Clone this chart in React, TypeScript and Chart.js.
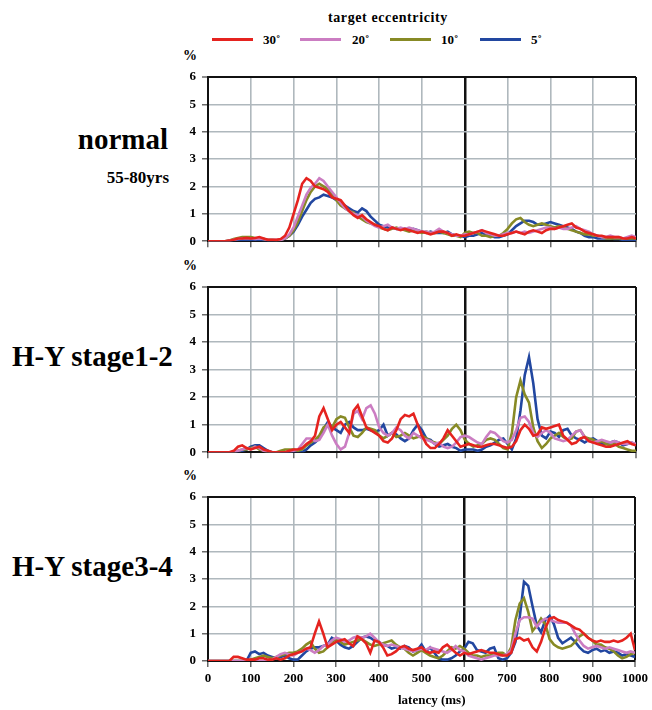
import React, { useEffect, useRef } from "react";
import { Chart, registerables } from "chart.js";

Chart.register(...registerables);

// latency (ms) sample points
const latency = [
  0, 10, 20, 30, 40, 50, 60, 70, 80, 90,
  100, 110, 120, 130, 140, 150, 160, 170, 180, 190,
  200, 210, 220, 230, 240, 250, 260, 270, 280, 290,
  300, 310, 320, 330, 340, 350, 360, 370, 380, 390,
  400, 410, 420, 430, 440, 450, 460, 470, 480, 490,
  500, 510, 520, 530, 540, 550, 560, 570, 580, 590,
  600, 610, 620, 630, 640, 650, 660, 670, 680, 690,
  700, 710, 720, 730, 740, 750, 760, 770, 780, 790,
  800, 810, 820, 830, 840, 850, 860, 870, 880, 890,
  900, 910, 920, 930, 940, 950, 960, 970, 980, 990,
  1000,
];

const xTickValues = [0, 100, 200, 300, 400, 500, 600, 700, 800, 900, 1000];
const yTickValues = [0, 1, 2, 3, 4, 5, 6];

const eccentricityLabels = ["30\u02da", "20\u02da", "10\u02da", "5\u02da"];
const eccentricityColors = ["#e5231f", "#cb7dc2", "#878a25", "#2247a0"];

// ---- normal 55-80yrs ----
const normal30 = [
  0, 0, 0, 0, 0, 0.02, 0.05, 0.1, 0.1, 0.12,
  0.1, 0.12, 0.15, 0.1, 0.05, 0.05, 0.05, 0.08, 0.2, 0.5,
  1.0, 1.5, 2.1, 2.3, 2.2, 2.0, 1.95, 1.9, 1.8, 1.6,
  1.55, 1.5, 1.3, 1.1, 0.95, 0.85, 0.95, 0.8, 0.7, 0.6,
  0.55, 0.45, 0.4, 0.5, 0.45, 0.4, 0.45, 0.4, 0.35, 0.3,
  0.35, 0.3, 0.25, 0.3, 0.35, 0.35, 0.3, 0.2, 0.25, 0.2,
  0.2, 0.25, 0.3, 0.35, 0.4, 0.35, 0.3, 0.25, 0.2, 0.2,
  0.25, 0.3, 0.35, 0.3, 0.25, 0.35, 0.4, 0.35, 0.3, 0.4,
  0.45, 0.45, 0.5, 0.55, 0.6, 0.65, 0.5, 0.45, 0.35, 0.3,
  0.25, 0.2, 0.2, 0.15, 0.15, 0.15, 0.15, 0.1, 0.1, 0.15,
  0.1,
];
const normal20 = [
  0, 0, 0, 0, 0, 0.02, 0.05, 0.08, 0.1, 0.1,
  0.1, 0.08, 0.1, 0.08, 0.05, 0.05, 0.05, 0.05, 0.1, 0.25,
  0.5, 0.9, 1.3, 1.7, 1.95, 2.1, 2.3, 2.2, 2.0, 1.8,
  1.6, 1.4, 1.2, 1.1, 1.0, 0.95, 0.9, 0.75, 0.65, 0.55,
  0.5, 0.55, 0.6, 0.5, 0.45, 0.5, 0.45, 0.5, 0.45, 0.4,
  0.35, 0.35, 0.3, 0.35, 0.45, 0.35, 0.3, 0.25, 0.2, 0.2,
  0.25, 0.25, 0.3, 0.35, 0.4, 0.3, 0.25, 0.2, 0.2, 0.25,
  0.3, 0.3, 0.35, 0.3, 0.35, 0.3, 0.35, 0.4, 0.45, 0.5,
  0.5, 0.45, 0.5, 0.45, 0.45, 0.5, 0.55, 0.45, 0.4, 0.35,
  0.25, 0.2, 0.15, 0.15, 0.2, 0.15, 0.15, 0.1, 0.15, 0.2,
  0.15,
];
const normal10 = [
  0, 0, 0, 0, 0, 0.03, 0.08, 0.12, 0.15, 0.15,
  0.15, 0.12, 0.1, 0.08, 0.05, 0.05, 0.03, 0.05, 0.1, 0.2,
  0.4, 0.7, 1.1, 1.5, 1.8, 2.0, 2.1, 2.0, 1.9, 1.7,
  1.5, 1.3, 1.2, 1.1, 1.05, 0.9, 0.8, 0.7, 0.65, 0.6,
  0.5, 0.45, 0.4, 0.45, 0.5, 0.45, 0.4, 0.35, 0.4, 0.35,
  0.3, 0.35, 0.3, 0.3, 0.35, 0.3, 0.25, 0.2, 0.2, 0.15,
  0.3, 0.35, 0.3, 0.3, 0.2, 0.2, 0.15, 0.2, 0.2, 0.3,
  0.45, 0.65, 0.8, 0.85, 0.7, 0.6, 0.55, 0.6, 0.65, 0.6,
  0.55, 0.5, 0.55, 0.5, 0.45, 0.4, 0.35, 0.3, 0.25, 0.25,
  0.2, 0.2, 0.15, 0.1, 0.1, 0.1, 0.1, 0.1, 0.1, 0.1,
  0.1,
];
const normal5 = [
  0, 0, 0, 0, 0, 0, 0.03, 0.05, 0.05, 0.05,
  0.05, 0.05, 0.05, 0.03, 0.02, 0.02, 0.02, 0.05, 0.1, 0.2,
  0.35, 0.6, 0.9, 1.15, 1.4, 1.55, 1.6, 1.7, 1.65, 1.6,
  1.5, 1.4, 1.3, 1.2, 1.1, 1.05, 1.2, 1.1, 0.9, 0.75,
  0.6, 0.55, 0.5, 0.5, 0.45, 0.45, 0.45, 0.4, 0.45, 0.4,
  0.35, 0.3, 0.35, 0.3, 0.3, 0.3, 0.35, 0.25, 0.2, 0.2,
  0.15, 0.2, 0.2, 0.25, 0.3, 0.25, 0.2, 0.15, 0.15, 0.2,
  0.25, 0.4, 0.55, 0.65, 0.75, 0.75, 0.7, 0.6, 0.6, 0.65,
  0.7, 0.65, 0.6, 0.55, 0.5, 0.45, 0.35, 0.3, 0.2, 0.15,
  0.15, 0.1, 0.1, 0.1, 0.1, 0.08, 0.08, 0.05, 0.05, 0.05,
  0.03,
];

// ---- H-Y stage1-2 ----
const hy12_30 = [
  0, 0, 0, 0, 0, 0, 0.05, 0.2, 0.25, 0.15,
  0.1, 0.15, 0.2, 0.1, 0.05, 0, 0, 0, 0, 0.05,
  0.1, 0.1, 0.15, 0.3, 0.4, 0.6, 1.3, 1.6, 1.2, 0.8,
  1.0, 1.1, 0.9, 0.7, 1.5, 1.7, 1.3, 0.9, 0.8, 0.7,
  0.6, 0.4, 0.35, 0.5, 0.8, 1.2, 1.35, 1.3, 1.4, 1.0,
  0.6, 0.3, 0.15, 0.15, 0.3, 0.5, 0.8, 0.6, 0.4, 0.2,
  0.25, 0.3, 0.25, 0.2, 0.2, 0.25, 0.3, 0.3, 0.25, 0.2,
  0.15, 0.2, 0.4, 0.8, 1.0, 0.85, 0.6, 0.65, 0.9, 0.85,
  0.9, 0.95, 1.0, 0.6, 0.45, 0.3, 0.35, 0.5, 0.55, 0.4,
  0.35, 0.3, 0.25, 0.2, 0.2, 0.25, 0.3, 0.35, 0.4, 0.3,
  0.25,
];
const hy12_20 = [
  0, 0, 0, 0, 0, 0, 0, 0.05, 0.1, 0.15,
  0.1, 0.2, 0.15, 0.05, 0, 0, 0, 0, 0, 0,
  0.05, 0.1, 0.3, 0.5, 0.5, 0.4, 0.45, 0.7, 1.0, 0.6,
  0.3, 0.1, 0.2, 0.7, 1.4, 1.5, 1.2, 1.6, 1.7, 1.4,
  0.9, 0.7, 0.6, 0.7, 0.9, 0.8, 0.6, 0.5, 0.7, 0.6,
  0.5, 0.45, 0.4, 0.3, 0.35, 0.2, 0.15, 0.2, 0.35, 0.55,
  0.6, 0.55, 0.45, 0.35, 0.3, 0.55, 0.75, 0.7, 0.55, 0.4,
  0.35, 0.45, 0.8, 1.25, 1.3, 1.1, 0.7, 0.55, 0.7, 0.8,
  0.7, 0.5, 0.45, 0.4, 0.45, 0.6, 0.75, 0.8, 0.55, 0.4,
  0.35, 0.4, 0.45, 0.4, 0.35, 0.4, 0.35, 0.3, 0.3, 0.35,
  0.3,
];
const hy12_10 = [
  0, 0, 0, 0, 0, 0, 0, 0.05, 0.1, 0.1,
  0.15, 0.2, 0.1, 0.05, 0, 0, 0, 0.05, 0.1, 0.1,
  0.1, 0.05, 0.1, 0.25, 0.35, 0.45, 0.6, 0.9, 1.0, 0.9,
  1.2, 1.3, 1.25, 0.9, 0.6, 0.55, 0.7, 0.9, 0.85, 0.8,
  0.6, 0.5, 0.6, 0.7, 0.55, 0.6, 0.7, 0.6, 0.5, 0.55,
  0.6, 0.5, 0.4, 0.35, 0.3, 0.45, 0.6, 0.85, 1.0, 0.8,
  0.45, 0.3, 0.2, 0.25, 0.3, 0.45, 0.5, 0.45, 0.3, 0.15,
  0.1, 0.7, 2.0, 2.6, 2.1, 1.8, 0.9, 0.4, 0.15, 0.3,
  0.5, 0.6, 0.7, 0.55, 0.45, 0.5, 0.75, 0.8, 0.55, 0.5,
  0.45, 0.35, 0.4, 0.3, 0.25, 0.3, 0.2, 0.15, 0.1, 0.05,
  0.05,
];
const hy12_5 = [
  0, 0, 0, 0, 0, 0, 0, 0.02, 0.05, 0.1,
  0.2, 0.25, 0.25, 0.15, 0.05, 0, 0, 0, 0, 0,
  0, 0, 0, 0.1, 0.25, 0.35, 0.5, 0.85, 1.1, 0.9,
  0.8, 0.7, 1.0, 1.1, 0.9, 0.8, 0.8, 0.85, 0.8, 0.75,
  0.8, 1.0, 0.6, 0.7, 0.65, 0.5, 0.4, 0.5, 0.8, 1.0,
  0.8, 0.5, 0.45, 0.3, 0.2, 0.25, 0.3, 0.2, 0.15, 0.05,
  0.1, 0.1, 0.1, 0.05, 0.1, 0.2, 0.25, 0.35, 0.45, 0.5,
  0.3, 0.1, 0.5, 1.5, 2.8, 3.45, 2.5, 1.2, 0.6, 0.5,
  0.75, 0.7, 0.55, 0.8, 0.85, 0.6, 0.5, 0.45, 0.35, 0.45,
  0.5, 0.4, 0.3, 0.3, 0.35, 0.4, 0.35, 0.25, 0.3, 0.35,
  0.25,
];

// ---- H-Y stage3-4 ----
const hy34_30 = [
  0, 0, 0, 0, 0, 0, 0.15, 0.15, 0.1, 0.05,
  0.05, 0.05, 0.1, 0.1, 0.05, 0.05, 0.1, 0.05, 0.1, 0.2,
  0.25, 0.3, 0.35, 0.45, 0.5, 1.0, 1.45, 1.0, 0.5, 0.6,
  0.7, 0.75, 0.8, 0.65, 0.55, 0.9, 0.8, 0.65, 0.3, 0.75,
  0.7, 0.5, 0.2, 0.25, 0.35, 0.5, 0.55, 0.45, 0.4, 0.45,
  0.5, 0.35, 0.3, 0.35, 0.3, 0.5, 0.6, 0.45, 0.3, 0.2,
  0.3, 0.25, 0.3, 0.35, 0.4, 0.35, 0.3, 0.3, 0.25, 0.2,
  0.2, 0.3, 0.8, 0.85, 0.75, 0.8, 0.5, 0.35, 0.7, 1.2,
  1.55, 1.6, 1.5, 1.45, 1.4, 1.3, 1.2, 1.15, 1.0, 0.85,
  0.75, 0.7, 0.75, 0.7, 0.7, 0.75, 0.7, 0.75, 0.85, 1.0,
  0.4,
];
const hy34_20 = [
  0, 0, 0, 0, 0, 0, 0, 0, 0, 0,
  0, 0, 0, 0, 0, 0.05, 0.15, 0.25, 0.3, 0.25,
  0.2, 0.3, 0.35, 0.45, 0.4, 0.3, 0.4, 0.55, 0.6, 0.75,
  0.85, 0.8, 0.7, 0.75, 0.85, 0.9, 0.85, 0.9, 1.0, 0.85,
  0.7, 0.6, 0.55, 0.6, 0.55, 0.5, 0.45, 0.4, 0.35, 0.4,
  0.45, 0.4, 0.5, 0.45, 0.4, 0.35, 0.3, 0.4, 0.55, 0.4,
  0.35, 0.2, 0.15, 0.1, 0.05, 0.1, 0.15, 0.2, 0.2, 0.2,
  0.25, 0.4, 1.0, 1.5, 1.6, 1.6, 1.55, 1.25, 1.45, 1.55,
  1.5, 1.45, 1.4, 1.4, 1.4, 1.3, 1.0, 0.75, 0.55, 0.45,
  0.5, 0.55, 0.5, 0.45, 0.5, 0.45, 0.4, 0.35, 0.3, 0.35,
  0.3,
];
const hy34_10 = [
  0, 0, 0, 0, 0, 0, 0, 0, 0, 0,
  0.05, 0.1, 0.15, 0.2, 0.15, 0.1, 0.15, 0.2, 0.25, 0.3,
  0.3, 0.35, 0.45, 0.6, 0.7, 0.45, 0.3, 0.35, 0.5, 0.7,
  0.8, 0.7, 0.6, 0.65, 0.7, 0.75, 0.8, 0.7, 0.6, 0.55,
  0.6, 0.65, 0.7, 0.75, 0.6, 0.5, 0.45, 0.3, 0.2, 0.3,
  0.4, 0.3, 0.2, 0.15, 0.1, 0.2, 0.35, 0.5, 0.45, 0.55,
  0.45, 0.3, 0.2, 0.2, 0.15, 0.2, 0.2, 0.25, 0.3, 0.3,
  0.2, 0.5, 1.5, 2.1, 2.3, 1.8, 1.1, 1.3, 1.55, 1.35,
  0.8, 0.6, 0.5, 0.45, 0.5, 0.55, 0.7, 0.9, 1.0, 0.85,
  0.75, 0.6, 0.6, 0.5, 0.45, 0.35, 0.2, 0.1, 0.15, 0.25,
  0.3,
];
const hy34_5 = [
  0, 0, 0, 0, 0, 0, 0, 0, 0, 0,
  0.3, 0.35, 0.25, 0.3, 0.2, 0.15, 0.1, 0.15, 0.2, 0.1,
  0.05, 0.05, 0.2, 0.35, 0.45, 0.5, 0.5, 0.55, 0.6, 0.85,
  0.75, 0.6, 0.5, 0.45, 0.55, 0.7, 0.85, 0.9, 0.85, 0.75,
  0.7, 0.6, 0.55, 0.45, 0.5, 0.45, 0.55, 0.5, 0.35, 0.4,
  0.6, 0.35, 0.5, 0.3, 0.1, 0.05, 0.05, 0.1, 0.2, 0.35,
  0.45, 0.7, 0.65, 0.4, 0.35, 0.3, 0.45, 0.5, 0.1, 0.05,
  0.1, 0.3, 0.7, 1.6, 2.9, 2.75, 2.0, 1.3, 1.05, 1.5,
  1.65, 1.35, 0.85, 0.65, 0.75, 0.85, 0.7, 0.5, 0.35, 0.3,
  0.4, 0.45, 0.35, 0.4, 0.3, 0.35, 0.3, 0.2, 0.25, 0.2,
  0.15,
];

const FONT = "'Liberation Serif', 'Times New Roman', serif";
const GRID = "#afb8bd";
const BLACK = "#111111";

type PanelProps = {
  top: number;
  height: number;
  series: number[][];
  showX: boolean;
};

function Panel({ top, height, series, showX }: PanelProps) {
  const ref = useRef<HTMLCanvasElement | null>(null);
  useEffect(() => {
    if (!ref.current) return;
    const chart = new Chart(ref.current, {
      type: "line",
      data: {
        datasets: series.map((vals, si) => ({
          label: eccentricityLabels[si],
          data: latency.map((x, i) => ({ x, y: vals[i] })),
          borderColor: eccentricityColors[si],
          backgroundColor: eccentricityColors[si],
          borderWidth: 2.6,
          pointRadius: 0,
          tension: 0,
          fill: false,
        })),
      },
      options: {
        animation: false,
        responsive: false,
        maintainAspectRatio: false,
        devicePixelRatio: 1,
        layout: { padding: { top: 27, right: 16, left: 0, bottom: 0 } },
        plugins: { legend: { display: false }, tooltip: { enabled: false } },
        scales: {
          x: {
            type: "linear",
            min: 0,
            max: 1000,
            afterBuildTicks: (scale: any) => {
              scale.ticks = xTickValues.map((v) => ({ value: v }));
            },
            afterFit: (scale: any) => {
              scale.height = showX ? 50 : 7;
            },
            ticks: {
              display: showX,
              color: "#000",
              padding: 4,
              maxRotation: 0,
              autoSkip: false,
              callback: (v: any) => String(v),
              font: { family: FONT, size: 13, weight: "bold" },
            },
            grid: {
              color: (ctx: any) =>
                ctx.tick && (ctx.tick.value === 600 || ctx.tick.value === 1000) ? BLACK : GRID,
              lineWidth: (ctx: any) =>
                ctx.tick && ctx.tick.value === 600 ? 2.5 : ctx.tick && ctx.tick.value === 1000 ? 2 : 1.6,
              tickLength: 6,
              tickColor: "#444",
              tickWidth: 1.2,
            },
            border: { color: BLACK, width: 2 },
          },
          y: {
            min: 0,
            max: 6,
            afterBuildTicks: (scale: any) => {
              scale.ticks = yTickValues.map((v) => ({ value: v }));
            },
            afterFit: (scale: any) => {
              scale.width = 40;
            },
            ticks: {
              color: "#000",
              padding: 6,
              font: { family: FONT, size: 13, weight: "bold" },
            },
            grid: {
              color: (ctx: any) => (ctx.tick && ctx.tick.value === 6 ? BLACK : GRID),
              lineWidth: (ctx: any) => (ctx.tick && ctx.tick.value === 6 ? 2 : 1.6),
              tickLength: 6,
              tickColor: "#444",
              tickWidth: 1.2,
            },
            border: { color: BLACK, width: 2 },
          },
        },
      },
    } as any);
    return () => chart.destroy();
  }, []);
  return (
    <canvas
      ref={ref}
      width={484}
      height={height}
      style={{ position: "absolute", left: 168, top, width: 484, height }}
    />
  );
}

const txt = (extra: React.CSSProperties): React.CSSProperties => ({
  position: "absolute",
  fontFamily: FONT,
  fontWeight: "bold",
  color: "#000",
  whiteSpace: "nowrap",
  lineHeight: 1,
  ...extra,
});

const legendLineX = [212, 300, 390, 480];
const legendTextX = [263, 352, 441, 531];

export default function App() {
  return (
    <div
      style={{
        position: "absolute",
        left: 0,
        top: 0,
        width: 652,
        height: 710,
        background: "#fff",
        overflow: "hidden",
      }}
    >
      {/* legend */}
      <div style={txt({ left: 328, top: 11, fontSize: 14, letterSpacing: 0.6 })}>target eccentricity</div>
      {eccentricityLabels.map((lab, i) => (
        <React.Fragment key={lab}>
          <div
            style={{
              position: "absolute",
              left: legendLineX[i],
              top: 38,
              width: 41,
              height: 3,
              background: eccentricityColors[i],
            }}
          />
          <div style={txt({ left: legendTextX[i], top: 33, fontSize: 13 })}>{lab}</div>
        </React.Fragment>
      ))}

      {/* % labels */}
      <div style={txt({ left: 183, top: 49, fontSize: 14 })}>%</div>
      <div style={txt({ left: 183, top: 259, fontSize: 14 })}>%</div>
      <div style={txt({ left: 183, top: 469, fontSize: 14 })}>%</div>

      {/* group labels */}
      <div style={txt({ left: 0, width: 168, textAlign: "right", top: 125, fontSize: 29 })}>normal</div>
      <div style={txt({ left: 0, width: 169, textAlign: "right", top: 169, fontSize: 17 })}>55-80yrs</div>
      <div style={txt({ left: 12, top: 342, fontSize: 29 })}>H-Y stage1-2</div>
      <div style={txt({ left: 12, top: 552, fontSize: 29 })}>H-Y stage3-4</div>

      <Panel top={50} height={205} series={[normal30, normal20, normal10, normal5]} showX={false} />
      <Panel top={260} height={206} series={[hy12_30, hy12_20, hy12_10, hy12_5]} showX={false} />
      <Panel top={470} height={241} series={[hy34_30, hy34_20, hy34_10, hy34_5]} showX={true} />

      <div style={txt({ left: 398, top: 693, fontSize: 13 })}>latency (ms)</div>
    </div>
  );
}
